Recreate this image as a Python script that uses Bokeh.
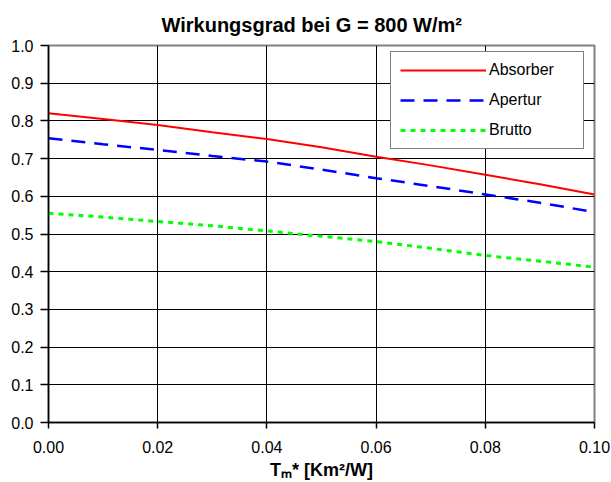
from bokeh.plotting import figure
from bokeh.models import (Range1d, FixedTicker, Legend, LegendItem,
                          NumeralTickFormatter)
from bokeh.embed import file_html
from bokeh.resources import INLINE

# ---- data ----
tm = [0.00, 0.01, 0.02, 0.03, 0.04, 0.05, 0.06, 0.07, 0.08, 0.09, 0.10]
absorber = [0.820, 0.805, 0.789, 0.770, 0.752, 0.730, 0.705, 0.682, 0.657, 0.632, 0.605]
apertur = [0.754, 0.738, 0.723, 0.707, 0.692, 0.671, 0.648, 0.627, 0.605, 0.583, 0.558]
brutto = [0.555, 0.545, 0.533, 0.522, 0.508, 0.494, 0.480, 0.462, 0.443, 0.428, 0.412]
series_names = ["Absorber", "Apertur", "Brutto"]
x_ticks = [0.0, 0.02, 0.04, 0.06, 0.08, 0.10]
y_ticks = [0.0, 0.1, 0.2, 0.3, 0.4, 0.5, 0.6, 0.7, 0.8, 0.9, 1.0]
title_text = "Wirkungsgrad bei G = 800 W/m²"
x_label = "Tₘ* [Km²/W]"

FONT = "Liberation Sans"

p = figure(width=611, height=482, output_backend="svg", toolbar_location=None,
           x_range=Range1d(0, 0.1), y_range=Range1d(0, 1.0),
           min_border_left=48, min_border_right=17, min_border_top=45,
           min_border_bottom=58)
p.background_fill_color = "white"
p.border_fill_color = "white"
p.outline_line_color = "#808080"
p.outline_line_width = 2

p.title.text = title_text
p.title.align = "left"
p.title.offset = 113
p.title.standoff = 20
p.title.text_font = FONT
p.title.text_font_size = "20px"
p.title.text_font_style = "bold"
p.title.text_color = "black"

# axes
for ax in (p.xaxis[0], p.yaxis[0]):
    ax.axis_line_color = "black"
    ax.axis_line_width = 1.5
    ax.major_tick_line_color = "black"
    ax.major_tick_line_width = 1.5
    ax.major_tick_in = 0
    ax.minor_tick_line_color = None
    ax.major_label_text_font = FONT
    ax.major_label_text_font_size = "16px"
    ax.major_label_text_color = "black"

p.xaxis.ticker = FixedTicker(ticks=x_ticks)
p.yaxis.ticker = FixedTicker(ticks=y_ticks)
p.xaxis.formatter = NumeralTickFormatter(format="0.00")
p.yaxis.formatter = NumeralTickFormatter(format="0.0")
p.xaxis.major_tick_out = 6
p.yaxis.major_tick_out = 8
p.xaxis.major_label_standoff = 12
p.yaxis.major_label_standoff = 7

p.xaxis.axis_label = x_label
p.xaxis.axis_label_text_font = FONT
p.xaxis.axis_label_text_font_size = "18px"
p.xaxis.axis_label_text_font_style = "bold"
p.xaxis.axis_label_text_color = "black"
p.xaxis.axis_label_standoff = 4

p.xgrid.grid_line_color = "black"
p.ygrid.grid_line_color = "black"
p.xgrid.grid_line_width = 1
p.ygrid.grid_line_width = 1

r1 = p.line(tm, absorber, line_color="#ff0000", line_width=2)
r2 = p.line(tm, apertur, line_color="#0000ff", line_width=2.5, line_dash="14 9")
r3 = p.line(tm, brutto, line_color="#00ff00", line_width=3, line_dash="5 5")

legend = Legend(items=[LegendItem(label=series_names[0], renderers=[r1]),
                       LegendItem(label=series_names[1], renderers=[r2]),
                       LegendItem(label=series_names[2], renderers=[r3])],
                location=(342, 273), margin=0, padding=9,
                glyph_width=86, glyph_height=14, label_width=85,
                label_standoff=3, spacing=12,
                label_text_font=FONT, label_text_font_size="16px",
                label_text_color="black",
                border_line_color="black", border_line_width=1,
                background_fill_color="white", background_fill_alpha=1)
p.add_layout(legend, "center")

open("out.html", "w").write(file_html(p, INLINE))
